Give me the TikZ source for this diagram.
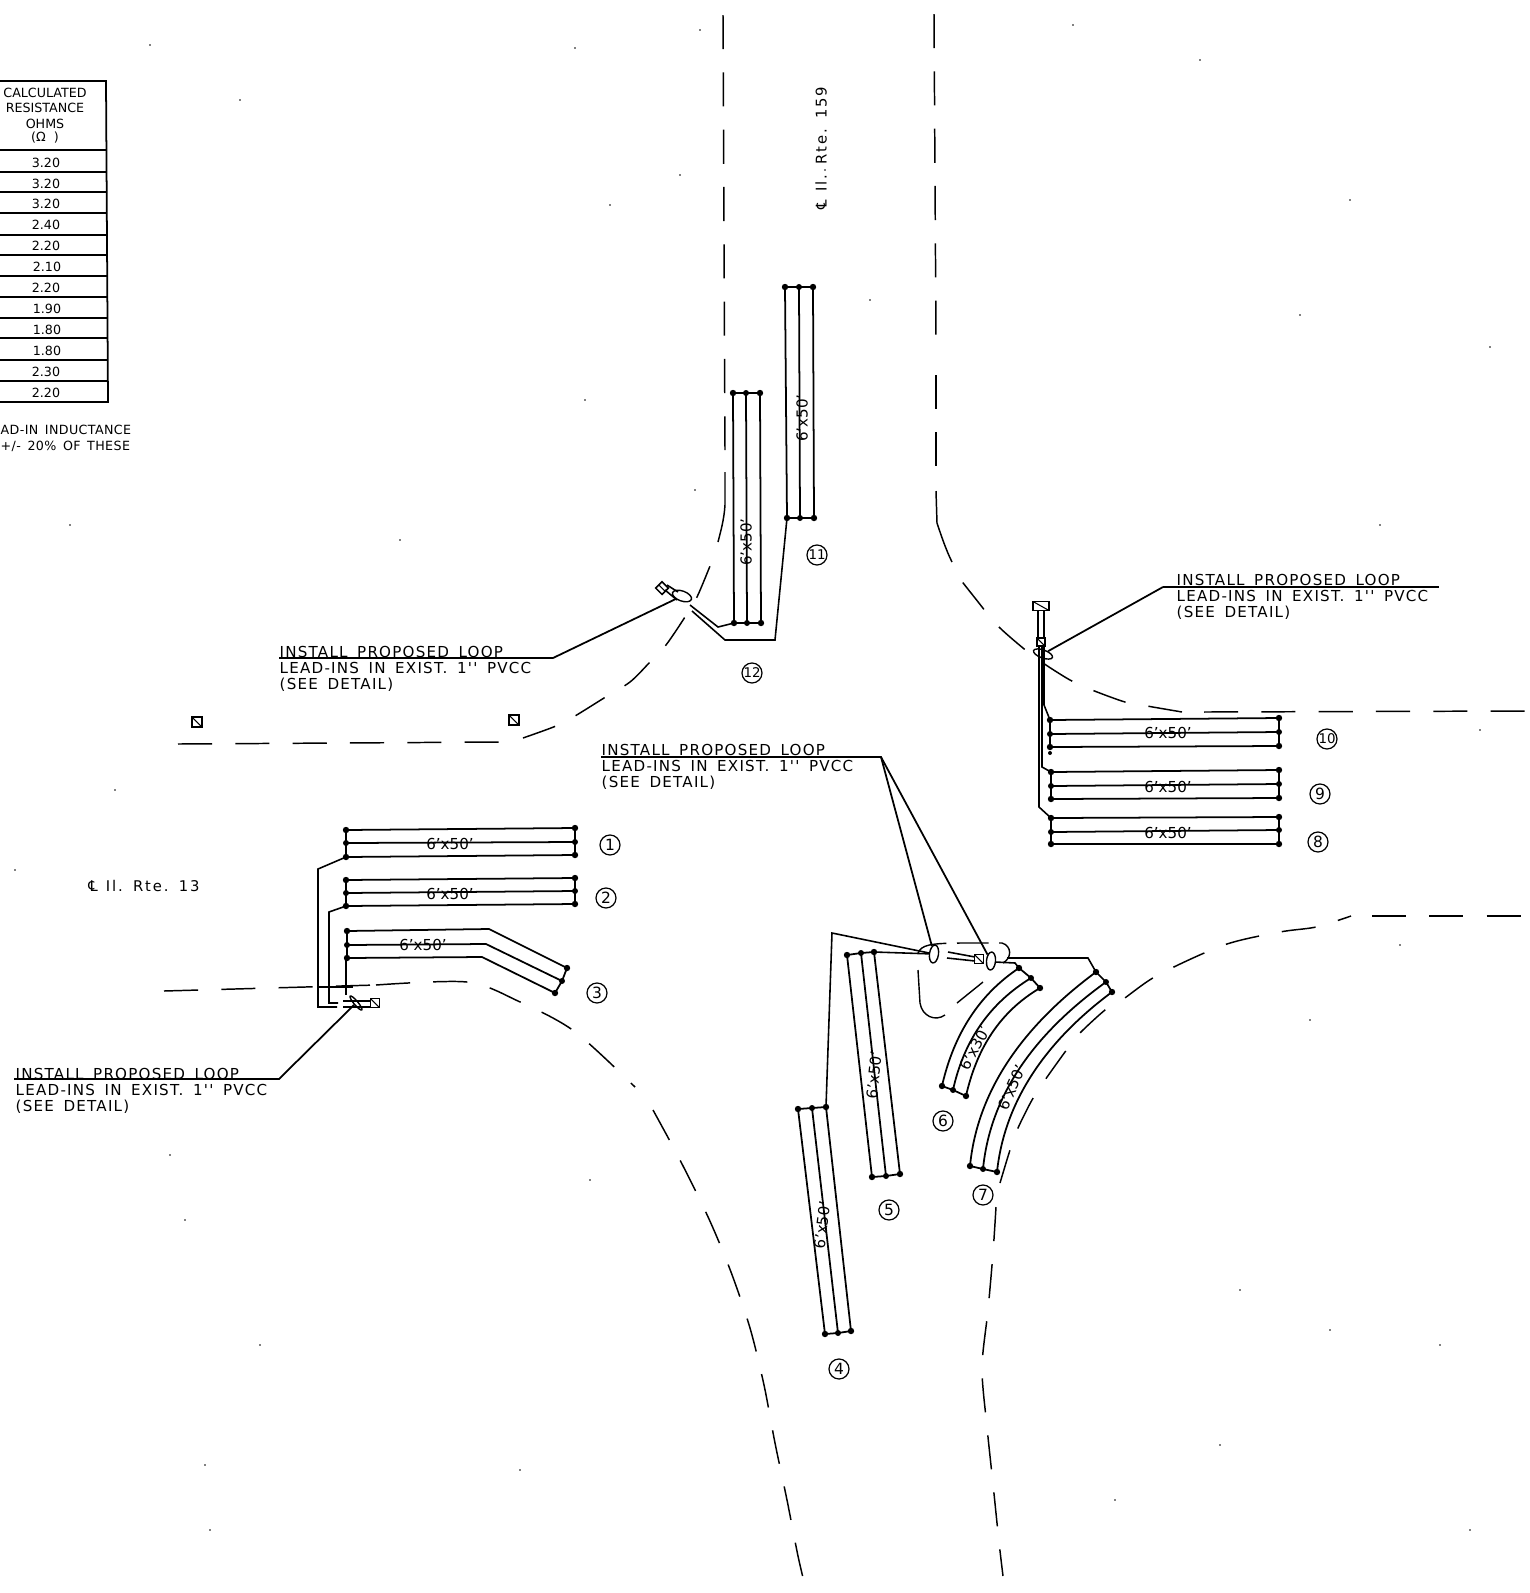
\documentclass[tikz,border=0pt]{standalone}
\usepackage{fontspec}
\setmainfont{DejaVu Sans}
\newfontfamily\platefont[LetterSpace=8,WordSpace=1.6]{DejaVu Sans}
\newfontfamily\routefont[LetterSpace=13,WordSpace=1.2]{DejaVu Sans}
\newfontfamily\footfont[LetterSpace=3,WordSpace=1.5]{DejaVu Sans}
\usetikzlibrary{calc,shapes.geometric}

\tikzset{
  roadedge/.style={line width=0.42pt,dash pattern=on 9.7pt off 6.6pt},
  roadpiece/.style={line width=0.42pt},
  loopwire/.style={line width=0.5pt},
  leadwire/.style={line width=0.45pt},
  leader/.style={line width=0.5pt},
  cellrule/.style={line width=0.5pt},
  plate/.style={font=\fontsize{4.3}{4.47}\platefont,anchor=north west,align=left,inner sep=0pt},
  sizetag/.style={font=\fontsize{4.3}{5}\selectfont,inner sep=0pt},
  routetag/.style={font=\fontsize{4.2}{5}\routefont,inner sep=0pt},
  cellvalue/.style={font=\fontsize{3.6}{4}\selectfont,inner sep=0pt},
  loopnum/.style={circle,draw,line width=0.35pt,inner sep=0pt,minimum size=0.2cm,font=\fontsize{4.4}{5}\selectfont},
  pullbox/.style={draw,line width=0.45pt,rectangle,inner sep=0pt,minimum size=0.09cm,path picture={\draw[line width=0.3pt] (path picture bounding box.north west) -- (path picture bounding box.south east);}},
  sleeve/.style={draw,line width=0.4pt,ellipse,inner sep=0pt,minimum width=0.2cm,minimum height=0.09cm}
}

\newcommand{\loopend}[3]{
  \draw[loopwire] (#1) -- (#2) -- (#3);
  \fill (#1) circle (3.2);
  \fill (#2) circle (3);
  \fill (#3) circle (3.2);
}
\newcommand{\straightloop}[6]{
  \draw[loopwire] (#1) -- (#4);
  \draw[loopwire] (#2) -- (#5);
  \draw[loopwire] (#3) -- (#6);
  \loopend{#1}{#2}{#3}
  \loopend{#4}{#5}{#6}
}

\begin{document}
\begin{tikzpicture}[x=0.01cm,y=-0.01cm]
\useasboundingbox (0,0) rectangle (1530,1593);

% table
\draw[cellrule] (0,81) -- (106,81) -- (108,402) -- (0,402);
\foreach \y in {150,172,192,213,235,255,276,297,318,338,360,381}
  \draw[cellrule] (0,\y) -- (107,\y);
\node[cellvalue] (headA) at (45,92.5) {CALCULATED};
\node[cellvalue] (headB) at (45,108) {RESISTANCE};
\node[cellvalue] (headC) at (45,124) {OHMS};
\node[cellvalue] (headD) at (45,138) {(Ω\ \ )};
\node[cellvalue] (valA) at (46,163) {3.20};
\node[cellvalue] (valB) at (46,184) {3.20};
\node[cellvalue] (valC) at (46,204) {3.20};
\node[cellvalue] (valD) at (46,225) {2.40};
\node[cellvalue] (valE) at (46,246) {2.20};
\node[cellvalue] (valF) at (47,267) {2.10};
\node[cellvalue] (valG) at (46,288) {2.20};
\node[cellvalue] (valH) at (47,309) {1.90};
\node[cellvalue] (valI) at (47,330) {1.80};
\node[cellvalue] (valJ) at (47,351) {1.80};
\node[cellvalue] (valK) at (46,372) {2.30};
\node[cellvalue] (valL) at (46,393) {2.20};
\node[cellvalue,font=\fontsize{3.6}{4}\footfont,anchor=west] (noteA) at (0,430) {AD-IN INDUCTANCE};
\node[cellvalue,font=\fontsize{3.6}{4}\footfont,anchor=west] (noteB) at (0,446) {+/- 20\% OF THESE};

% road edges
\draw[roadedge] (723,15) -- (725,450);
\draw[roadpiece] (725,472) -- (725,505) .. controls (724,520) and (721,530) .. (718,542);
\draw[roadedge] (178,744) -- (501,742);
\draw[roadedge] plot[smooth] coordinates {(523,738) (556,726) (575,716) (604,698) (630,682) (650,662) (666,645) (685,617) (697,597) (710,566)};
\draw[roadedge] (934,14) -- (936,340);
\draw[roadedge] (936,375) -- (936,470);
\draw[roadpiece] (936,491) -- (937,523) .. controls (941,535) and (946,550) .. (952,562);
\draw[roadedge] plot[smooth] coordinates {(1182,712) (1147,706) (1125,702) (1092,690) (1070,680) (1043,663) (1023,648) (997,625) (975,598) (960,579)};
\draw[roadedge] (1204,712) -- (1525,711);
\draw[roadedge] plot[smooth] coordinates {(1000,1183) (1010,1150) (1018,1128) (1032,1100) (1045,1080) (1065,1052) (1078,1035) (1105,1010) (1122,1000) (1158,975) (1224,945) (1280,932) (1316,927) (1351,916)};
\draw[roadedge] (1372,916) -- (1525,916);
\draw[roadedge] plot[smooth] coordinates {(996,1207) (993,1253) (988,1310) (982,1368) (987,1427) (993,1484) (999,1542) (1003,1576)};
\draw[roadedge] (164,991) -- (376,985);
\draw[roadedge] plot[smooth] coordinates {(376,985) (467,982) (518,1001) (574,1031) (635,1087)};
\draw[roadedge] plot[smooth] coordinates {(653,1110) (680,1160) (709,1219) (731,1272) (750,1328) (764,1385) (775,1443) (787,1500) (798,1556) (806,1590)};

% island
\draw[line width=0.4pt,dash pattern=on 9pt off 3pt] (918,953) .. controls (922,945) and (928,943) .. (967,943) -- (1002,943) .. controls (1012,946) and (1012,958) .. (1003,963);
\draw[line width=0.4pt] (918,970) -- (920,1003) .. controls (922,1016) and (935,1022) .. (945,1015);
\draw[line width=0.4pt] (957,1003) -- (983,982);

% loops 1 2 3
\straightloop{346,830}{346,843}{346,857}{575,828}{575,842}{575,855}
\straightloop{346,880}{346,893}{346,906}{575,878}{575,891}{575,904}
\draw[loopwire] (347,931) -- (489,929) -- (567,968);
\draw[loopwire] (347,945) -- (486,944) -- (562,981);
\draw[loopwire] (347,958) -- (482,957) -- (555,993);
\loopend{347,931}{347,945}{347,958}
\loopend{567,968}{562,981}{555,993}

% loops 4 5
\straightloop{798,1109}{812,1108}{826,1107}{825,1334}{838,1333}{851,1331}
\straightloop{847,955}{861,953}{874,952}{872,1177}{886,1176}{900,1174}

% loops 6 7
\draw[loopwire] (942,1086) .. controls (954,1033) and (980,994) .. (1019,968);
\draw[loopwire] (953,1090) .. controls (964,1040) and (990,1003) .. (1031,978);
\draw[loopwire] (966,1096) .. controls (977,1047) and (1001,1011) .. (1040,988);
\loopend{942,1086}{953,1090}{966,1096}
\loopend{1019,968}{1031,978}{1040,988}
\draw[loopwire] (970,1166) .. controls (977,1094) and (1019,1029) .. (1096,972);
\draw[loopwire] (983,1169) .. controls (990,1098) and (1031,1036) .. (1106,982);
\draw[loopwire] (997,1172) .. controls (1004,1105) and (1042,1044) .. (1112,992);
\loopend{970,1166}{983,1169}{997,1172}
\loopend{1096,972}{1106,982}{1112,992}

% loops 8 9 10
\straightloop{1050,720}{1050,734}{1050,747}{1279,718}{1279,732}{1279,746}
\straightloop{1051,772}{1051,786}{1051,799}{1279,770}{1279,784}{1279,798}
\straightloop{1051,818}{1051,832}{1051,844}{1279,817}{1279,830}{1279,844}
\fill (1050,753) circle (2);

% loops 11 12
\straightloop{785,287}{799,287}{813,287}{787,518}{800,518}{814,518}
\straightloop{733,393}{746,393}{760,393}{734,623}{747,623}{761,623}

% boxes and sleeves
\node[pullbox] (boxSW) at (375,1003) {};
\node[pullbox,rotate=45] (boxW) at (662,588) {};
\node[pullbox] (boxS) at (979,959) {};
\node[pullbox,minimum width=0.16cm] (boxE) at (1041,606) {};
\node[pullbox,minimum size=0.08cm] (boxEb) at (1041,642) {};
\node[pullbox,minimum size=0.1cm] (boxWa) at (197,722) {};
\node[pullbox,minimum size=0.1cm] (boxWb) at (514,720) {};
\node[sleeve,rotate=-50,minimum width=0.18cm,minimum height=0.04cm] (slvSW) at (356,1003) {};
\node[sleeve,rotate=-20,minimum width=0.2cm,minimum height=0.1cm] (slvW) at (682,596) {};
\node[sleeve,rotate=82,minimum width=0.18cm,minimum height=0.09cm] (slvSa) at (934,954) {};
\node[sleeve,rotate=85,minimum width=0.18cm,minimum height=0.09cm] (slvSb) at (991,961) {};
\node[sleeve,rotate=-20,minimum width=0.2cm,minimum height=0.08cm] (slvE) at (1043,654) {};

% lead wires
\draw[leadwire] (346,857) -- (318,869) -- (318,1007) -- (337,1007);
\draw[leadwire] (346,906) -- (329,912) -- (329,1003) -- (338,1003);
\draw[leadwire] (346,958) -- (346,995);
\draw[leadwire] (343,1001) -- (boxSW.west |- 0,1001);
\draw[leadwire] (343,1007) -- (boxSW.west |- 0,1007);
\draw[leadwire] (318,987) -- (353,987);

\draw[leadwire] (734,623) -- (718,627) -- (690,605);
\draw[leadwire] (787,518) -- (775,640) -- (725,640) -- (692,611);
\draw[leadwire] (667,585) -- (678,592);
\draw[leadwire] (665,590) -- (677,600);

\draw[leadwire] (826,1107) -- (832,933) -- (slvSa);
\draw[leadwire] (874,952) -- (slvSa);
\draw[leadwire] (948,952) -- (975,957);
\draw[leadwire] (947,958) -- (975,961);
\draw[leadwire] (1019,968) -- (1015,963) -- (995,962);
\draw[leadwire] (1096,972) -- (1088,958) -- (1007,958);

\draw[leadwire] (1038,610) -- (1038,638);
\draw[leadwire] (1044,610) -- (1044,638);
\draw[leadwire] (1044,646) -- (1044,705) -- (1050,720);
\draw[leadwire] (1042,646) -- (1042,767) -- (1051,772);
\draw[leadwire] (1039,646) -- (1039,807) -- (1051,818);

% plates
\node[plate] (plateSW) at (15,1068) {INSTALL PROPOSED LOOP\\LEAD-INS IN EXIST. 1'' PVCC\\(SEE DETAIL)};
\node[plate] (plateW) at (279,646) {INSTALL PROPOSED LOOP\\LEAD-INS IN EXIST. 1'' PVCC\\(SEE DETAIL)};
\node[plate] (plateS) at (601,744) {INSTALL PROPOSED LOOP\\LEAD-INS IN EXIST. 1'' PVCC\\(SEE DETAIL)};
\node[plate] (plateE) at (1176,574) {INSTALL PROPOSED LOOP\\LEAD-INS IN EXIST. 1'' PVCC\\(SEE DETAIL)};

\coordinate (ulSWa) at (14,1079);
\coordinate (ulSWb) at (279,1079);
\coordinate (ulWa) at (279,658);
\coordinate (ulWb) at (553,658);
\coordinate (ulSa) at (601,757);
\coordinate (ulSb) at (881,757);
\coordinate (ulEa) at (1163,587);
\coordinate (ulEb) at (1439,587);
\draw[leader] (ulSWa) -- (ulSWb) -- (slvSW);
\draw[leader] (ulWa) -- (ulWb) -- (slvW);
\draw[leader] (ulSa) -- (ulSb) -- (slvSa);
\draw[leader] (ulSb) -- (slvSb);
\draw[leader] (ulEa) -- (ulEb);
\draw[leader] (ulEa) -- (slvE);

% sizes
\node[sizetag] (sizeA) at (450,844) {6'x50'};
\node[sizetag] (sizeB) at (450,894) {6'x50'};
\node[sizetag] (sizeC) at (423,945) {6'x50'};
\node[sizetag,rotate=83] (sizeD) at (822,1225) {6'x50'};
\node[sizetag,rotate=84] (sizeE) at (874,1075) {6'x50'};
\node[sizetag,rotate=62] (sizeF) at (975,1048) {6'x30'};
\node[sizetag,rotate=66] (sizeG) at (1012,1088) {6'x50'};
\node[sizetag] (sizeH) at (1168,833) {6'x50'};
\node[sizetag] (sizeI) at (1168,787) {6'x50'};
\node[sizetag] (sizeJ) at (1168,733) {6'x50'};
\node[sizetag,rotate=90] (sizeK) at (802,418) {6'x50'};
\node[sizetag,rotate=90] (sizeL) at (746,542) {6'x50'};

% loop numbers
\node[loopnum] (numA) at (610,845) {1};
\node[loopnum] (numB) at (606,898) {2};
\node[loopnum] (numC) at (597,993) {3};
\node[loopnum] (numD) at (839,1369) {4};
\node[loopnum] (numE) at (889,1210) {5};
\node[loopnum] (numF) at (943,1121) {6};
\node[loopnum] (numG) at (983,1195) {7};
\node[loopnum] (numH) at (1318,842) {8};
\node[loopnum] (numI) at (1320,794) {9};
\node[loopnum,font=\fontsize{3.8}{4}\selectfont] (numJ) at (1327,739) {10};
\node[loopnum,font=\fontsize{3.8}{4}\selectfont] (numK) at (817,555) {11};
\node[loopnum,font=\fontsize{3.8}{4}\selectfont] (numL) at (752,673) {12};

% route names
\node[routetag,rotate=90] (routeN) at (821,148) {℄ Il. Rte. 159};
\node[routetag] (routeW) at (144,886) {℄ Il. Rte. 13};

% specks
\foreach \x/\y in {150/45,575/48,700/30,1073/25,240/100,610/205,680/175,825/170,1200/60,1490/347,1300/315,1380/525,70/525,115/790,15/870,585/400,695/490,1480/730,1310/1020,1400/945,260/1345,205/1465,210/1530,185/1220,170/1155,520/1470,590/1180,1115/1500,1220/1445,1470/1530,1440/1345,1330/1330,870/300,1240/1290,400/540,1350/200}
  \fill (\x,\y) circle (0.9);
\end{tikzpicture}
\end{document}
